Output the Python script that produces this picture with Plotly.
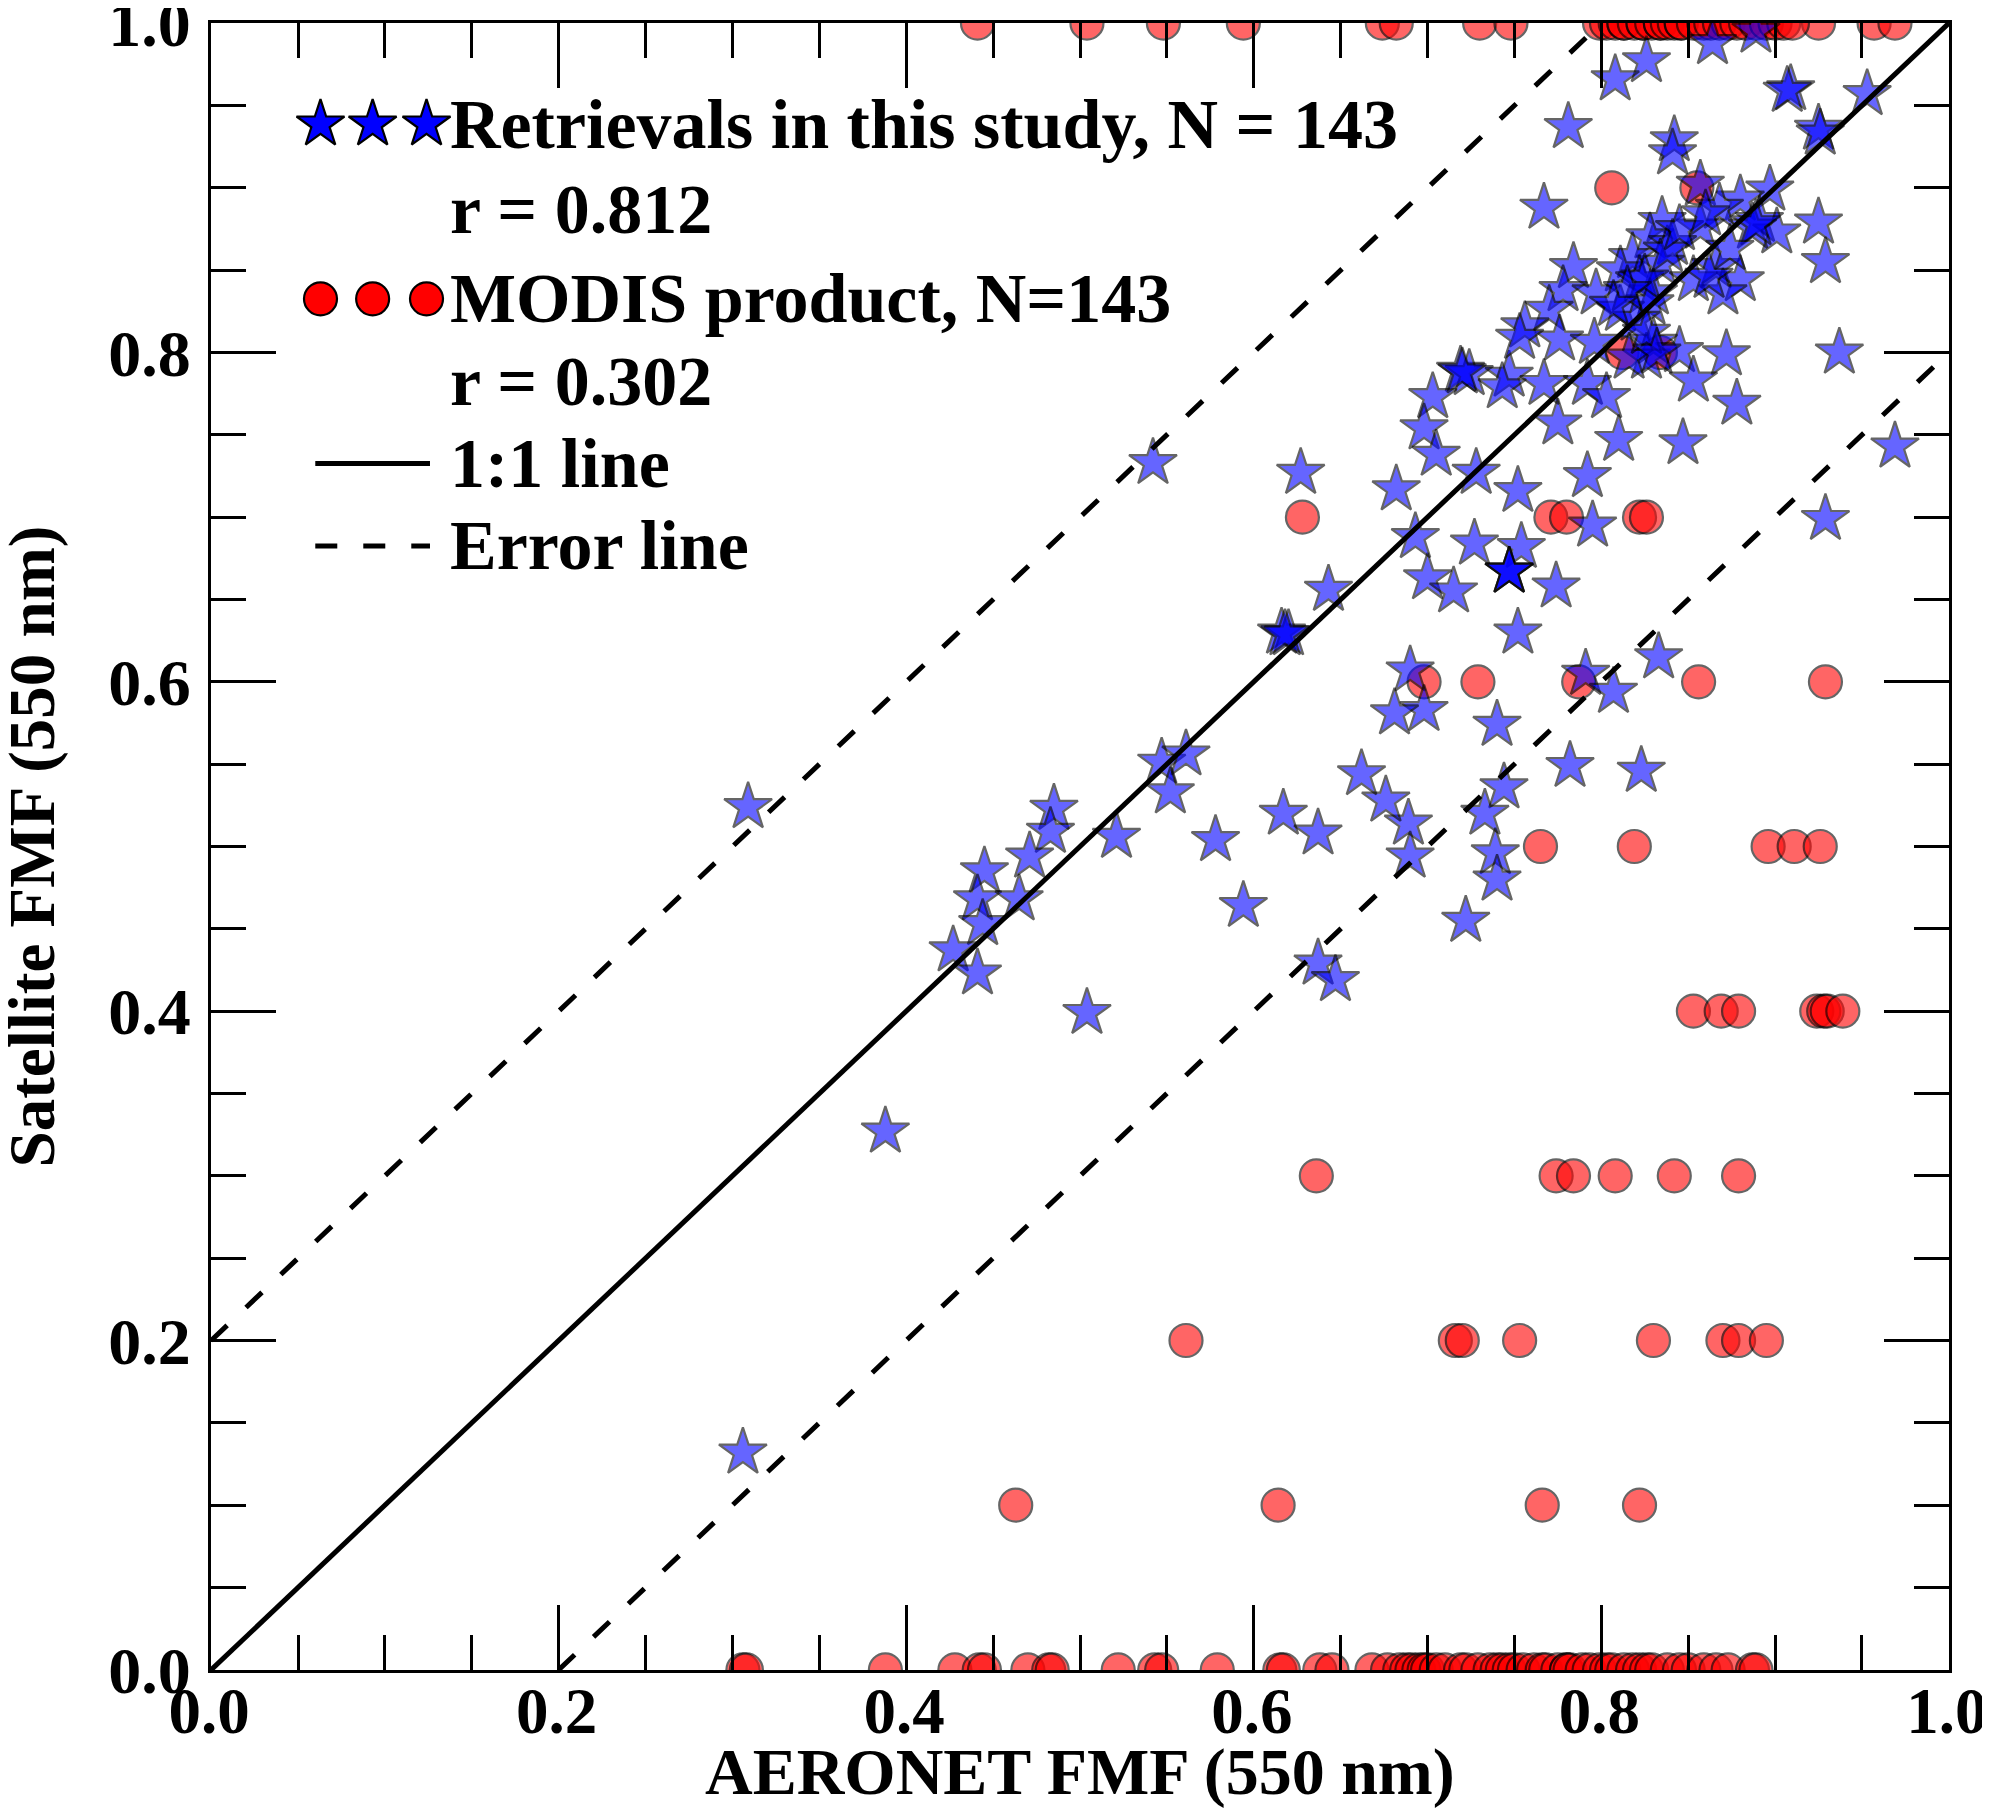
import plotly.graph_objects as go

# ---------------- data ----------------
# Retrievals in this study: AERONET FMF (x) vs retrieved FMF (y)
star_aeronet = [
    0.864, 0.889, 0.826, 0.808, 0.909, 0.907, 0.953, 0.925, 0.926, 0.781, 0.842, 0.841,
    0.925, 0.929, 0.937, 0.719, 0.724, 0.747, 0.743, 0.703, 0.775, 0.698, 0.705, 0.810,
    0.847, 0.969,
    0.767, 0.857, 0.897, 0.880, 0.868, 0.891, 0.901, 0.887, 0.835, 0.857, 0.828, 0.841,
    0.834, 0.818, 0.866, 0.880, 0.853, 0.870, 0.784, 0.811, 0.822, 0.778, 0.797, 0.830,
    0.770, 0.811, 0.828, 0.820, 0.756, 0.776, 0.830, 0.826, 0.816, 0.845, 0.872, 0.853,
    0.753, 0.767, 0.792, 0.803, 0.878,
    0.795, 0.929, 0.792, 0.752, 0.727, 0.754, 0.747, 0.700, 0.715, 0.774, 0.752, 0.693,
    0.728, 0.682, 0.690, 0.698, 0.681, 0.791, 0.807, 0.833, 0.740, 0.782, 0.823, 0.744,
    0.733, 0.689, 0.676, 0.690, 0.739, 0.740,
    0.306, 0.309, 0.388, 0.504, 0.542, 0.485, 0.483, 0.471, 0.445, 0.441, 0.444, 0.465,
    0.427, 0.441, 0.521, 0.547, 0.561, 0.552, 0.578, 0.594, 0.617, 0.637, 0.637, 0.647,
    0.662, 0.616, 0.620, 0.627, 0.643, 0.722,
    0.747, 0.747, 0.618, 0.825, 0.838, 0.815, 0.845, 0.889, 0.826, 0.862, 0.807, 0.796,
    0.874, 0.860, 0.720, 0.832,
]
star_retrieved = [
    0.988, 0.995, 0.977, 0.966, 0.960, 0.959, 0.957, 0.936, 0.933, 0.937, 0.929, 0.921,
    0.879, 0.855, 0.800, 0.789, 0.787, 0.786, 0.779, 0.773, 0.757, 0.754, 0.738, 0.747,
    0.745, 0.743,
    0.888, 0.902, 0.899, 0.893, 0.888, 0.880, 0.873, 0.876, 0.880, 0.876, 0.870, 0.866,
    0.854, 0.858, 0.852, 0.844, 0.844, 0.836, 0.852, 0.850, 0.844, 0.838, 0.836, 0.836,
    0.826, 0.826, 0.830, 0.820, 0.816, 0.808, 0.806, 0.797, 0.797, 0.801, 0.799, 0.783,
    0.809, 0.781, 0.781, 0.773, 0.769,
    0.695, 0.699, 0.725, 0.716, 0.684, 0.682, 0.667, 0.663, 0.655, 0.658, 0.630, 0.688,
    0.727, 0.717, 0.607, 0.583, 0.581, 0.605, 0.594, 0.615, 0.574, 0.549, 0.546, 0.536,
    0.520, 0.514, 0.528, 0.494, 0.496, 0.480,
    0.132, 0.524, 0.327, 0.399, 0.733, 0.523, 0.509, 0.494, 0.485, 0.468, 0.453, 0.468,
    0.437, 0.423, 0.506, 0.551, 0.556, 0.533, 0.504, 0.464, 0.520, 0.508, 0.429, 0.419,
    0.544, 0.630, 0.629, 0.727, 0.656, 0.455,
    0.667, 0.667, 0.629, 0.845, 0.862, 0.838, 0.875, 0.878, 0.812, 0.846, 0.829, 0.806,
    0.863, 0.884, 0.788, 0.800,
]

# MODIS product FMF is quantised in 0.1 steps: AERONET FMF values at each level
modis_levels = [1.0, 0.9, 0.8, 0.7, 0.6, 0.5, 0.4, 0.3, 0.2, 0.1, 0.0]
modis_aeronet_by_level = [
    [0.441, 0.504, 0.548, 0.594, 0.674, 0.682, 0.730, 0.748, 0.925, 0.957, 0.969,
     0.799, 0.803, 0.808, 0.813, 0.813, 0.819, 0.824, 0.824, 0.829, 0.834, 0.834, 0.838,
     0.842, 0.846, 0.846, 0.853, 0.859, 0.863, 0.868, 0.873, 0.878, 0.883, 0.889, 0.895,
     0.900, 0.905, 0.910],
    [0.806, 0.855],
    [0.812, 0.834],
    [0.628, 0.771, 0.780, 0.822, 0.826],
    [0.698, 0.729, 0.787, 0.856, 0.929],
    [0.765, 0.819, 0.896, 0.911, 0.926],
    [0.853, 0.869, 0.879, 0.924, 0.928, 0.930, 0.939],
    [0.636, 0.774, 0.784, 0.808, 0.842, 0.879],
    [0.561, 0.716, 0.720, 0.753, 0.830, 0.870, 0.879, 0.895],
    [0.463, 0.614, 0.766, 0.822],
    [0.306, 0.308, 0.388, 0.428, 0.442, 0.445, 0.470, 0.482, 0.484, 0.522, 0.543, 0.547,
     0.579, 0.615, 0.617, 0.638, 0.645, 0.668,
     0.677, 0.684, 0.688, 0.691, 0.695, 0.698, 0.700, 0.705, 0.710, 0.719, 0.722, 0.729,
     0.736, 0.740, 0.743, 0.747, 0.750, 0.755, 0.761, 0.766, 0.768, 0.775, 0.780, 0.780,
     0.782, 0.789, 0.793, 0.799, 0.803, 0.806, 0.813, 0.818, 0.822, 0.826, 0.829, 0.838,
     0.845, 0.850, 0.859, 0.866, 0.873, 0.887, 0.889],
]

tick_values = [0.0, 0.2, 0.4, 0.6, 0.8, 1.0]
tick_labels = ["0.0", "0.2", "0.4", "0.6", "0.8", "1.0"]
error_offset = 0.2

legend_texts = [
    "Retrievals in this study, N = 143",
    "r = 0.812",
    "MODIS product, N=143",
    "r = 0.302",
    "1:1 line",
    "Error line",
]

# ---------------- build ----------------
modis_x, modis_y = [], []
for lev, xs in zip(modis_levels, modis_aeronet_by_level):
    modis_x += xs
    modis_y += [lev] * len(xs)

FONT = "Liberation Serif"
STAR_SIZE = 36
CIRCLE_SIZE = 33
EDGE = dict(color="black", width=2.2)
DASH = "22px,26px"
LINE_W = 5

fig = go.Figure()

fig.add_trace(go.Scatter(
    x=modis_x, y=modis_y, mode="markers", showlegend=False,
    marker=dict(symbol="circle", size=CIRCLE_SIZE, color="red", opacity=0.6, line=EDGE),
))
fig.add_trace(go.Scatter(
    x=star_aeronet, y=star_retrieved, mode="markers", showlegend=False,
    marker=dict(symbol="star", size=STAR_SIZE, color="blue", opacity=0.6, line=EDGE),
))

# reference lines
fig.add_trace(go.Scatter(x=[0, 1], y=[0, 1], mode="lines", showlegend=False,
                         line=dict(color="black", width=LINE_W)))
fig.add_trace(go.Scatter(x=[0, 1 - error_offset], y=[error_offset, 1], mode="lines",
                         showlegend=False, line=dict(color="black", width=LINE_W, dash=DASH)))
fig.add_trace(go.Scatter(x=[error_offset, 1], y=[0, 1 - error_offset], mode="lines",
                         showlegend=False, line=dict(color="black", width=LINE_W, dash=DASH)))

# ---------------- custom legend (on a hidden overlay axis) ----------------
LEG_MARK_X = [0.063, 0.093, 0.124]
LEG_TEXT_X = 0.1363
LEG_ROW_Y = [0.9385, 0.8865, 0.8325, 0.7825, 0.7325, 0.6825]
LEG_LINE_X = [0.060, 0.126]

fig.add_trace(go.Scatter(
    x=LEG_MARK_X, y=[LEG_ROW_Y[0]] * 3, xaxis="x2", yaxis="y2", mode="markers",
    showlegend=False, cliponaxis=False,
    marker=dict(symbol="star", size=STAR_SIZE, color="blue", line=EDGE),
))
fig.add_trace(go.Scatter(
    x=LEG_MARK_X, y=[LEG_ROW_Y[2]] * 3, xaxis="x2", yaxis="y2", mode="markers",
    showlegend=False, cliponaxis=False,
    marker=dict(symbol="circle", size=CIRCLE_SIZE, color="red", line=EDGE),
))
fig.add_trace(go.Scatter(
    x=LEG_LINE_X, y=[LEG_ROW_Y[4]] * 2, xaxis="x2", yaxis="y2", mode="lines",
    showlegend=False, line=dict(color="black", width=LINE_W),
))
fig.add_trace(go.Scatter(
    x=LEG_LINE_X, y=[LEG_ROW_Y[5]] * 2, xaxis="x2", yaxis="y2", mode="lines",
    showlegend=False, line=dict(color="black", width=LINE_W, dash=DASH),
))

annotations = []
for txt, yy in zip(legend_texts, LEG_ROW_Y):
    annotations.append(dict(x=LEG_TEXT_X, y=yy, xref="paper", yref="paper", text=txt,
                            showarrow=False, xanchor="left", yanchor="middle",
                            font=dict(family=FONT, size=70, color="black", weight="bold")))
annotations.append(dict(x=0.5, y=-0.0619, xref="paper", yref="paper",
                        text="AERONET FMF (550 nm)", showarrow=False,
                        xanchor="center", yanchor="middle",
                        font=dict(family=FONT, size=66, color="black", weight="bold")))
annotations.append(dict(x=-0.103, y=0.5, xref="paper", yref="paper",
                        text="Satellite FMF (550 nm)", showarrow=False, textangle=-90,
                        xanchor="center", yanchor="middle",
                        font=dict(family=FONT, size=65, color="black", weight="bold")))

axis_common = dict(
    range=[-0.0001, 1.0001], tickmode="array", tickvals=tick_values, ticktext=tick_labels,
    ticks="inside", ticklen=65, tickwidth=3, tickcolor="black",
    minor=dict(dtick=0.05, tick0=0, ticks="inside", ticklen=35, tickwidth=2.5,
               tickcolor="black", showgrid=False),
    showline=True, linewidth=3, linecolor="black", mirror="allticks",
    showgrid=False, zeroline=False, ticklabeloverflow="allow", automargin=False,
)

# the page body adds an 8 px offset, so the figure is 8 px smaller on each side
fig.update_layout(
    width=1982, height=1800,
    margin=dict(l=203, r=41, t=15, b=138, autoexpand=False),
    paper_bgcolor="white", plot_bgcolor="white",
    showlegend=False,
    xaxis=dict(**axis_common, ticklabelstandoff=-18, ticklabelshift=-2,
               tickfont=dict(family=FONT, size=65, color="black", weight="bold")),
    yaxis=dict(**axis_common, ticklabelstandoff=4,
               tickfont=dict(family=FONT, size=66, color="black", weight="bold")),
    xaxis2=dict(range=[0, 1], overlaying="x", visible=False, fixedrange=True),
    yaxis2=dict(range=[0, 1], overlaying="y", visible=False, fixedrange=True),
    annotations=annotations,
)

fig.write_html("out.html")
